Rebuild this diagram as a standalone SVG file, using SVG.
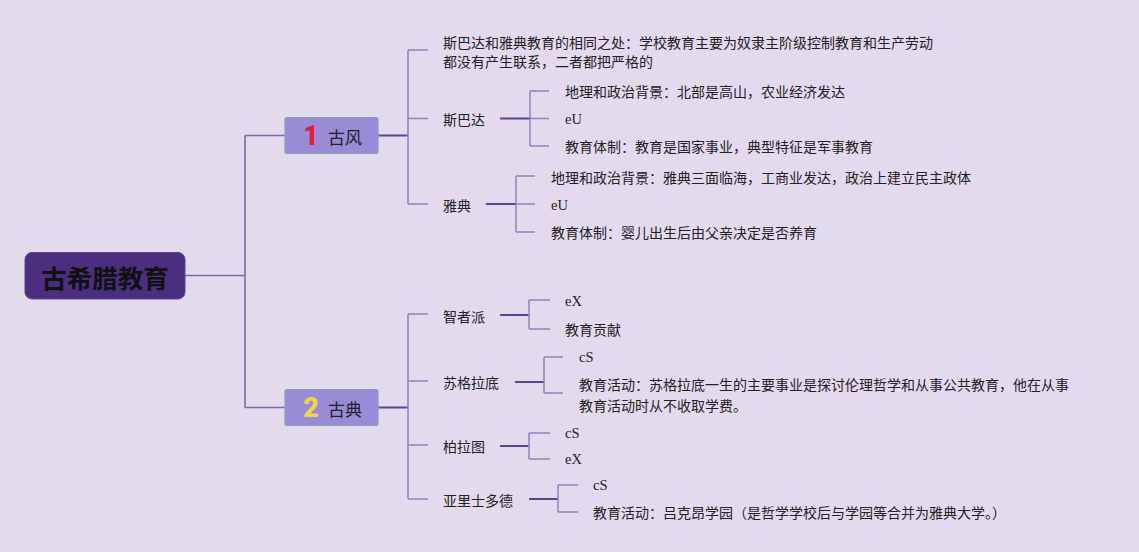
<svg xmlns="http://www.w3.org/2000/svg" width="1139" height="552" viewBox="0 0 1139 552">
<style>
.t{font-family:"Noto Sans CJK SC","Liberation Sans",sans-serif;font-size:14px;fill:#222;dominant-baseline:central}
.e{font-family:"Liberation Serif",serif;font-size:14.5px;fill:#222;dominant-baseline:central}
.lt{fill:none;stroke:#8f82c0;stroke-width:1.5}
.dk{fill:none;stroke:#5e4395;stroke-width:2}
.rt{fill:none;stroke:#7b6aa8;stroke-width:1.6}
.n1{fill:#9a8bd8;stroke:#86a2b8;stroke-width:1.2}
.nt{font-family:"Noto Sans CJK SC",sans-serif;font-size:17px;fill:#222;dominant-baseline:central}
.num{font-family:"Roboto","Liberation Sans",sans-serif;font-size:27px;font-weight:900;dominant-baseline:central}
</style>
<rect width="1139" height="552" fill="#e4daee"/>
<g id="connectors">
<path class="rt" d="M185 275.5H245M245 135.5V407.5M245 135.5H285M245 407.5H285"/>
<path class="dk" d="M378 135.5H408M378 407.5H408"/>
<path class="lt" d="M408 50V204M408 50H428M408 118.5H428M408 204H428"/>
<path class="dk" d="M500 118.5H530"/>
<path class="lt" d="M530 91V146M530 91H549M530 118.5H549M530 146H549"/>
<path class="dk" d="M486 204H516"/>
<path class="lt" d="M516 176V232M516 176H535M516 204H535M516 232H535"/>
<path class="lt" d="M408 314V499M408 314H428M408 381H428M408 445H428M408 499H428"/>
<path class="dk" d="M500 315H529"/>
<path class="lt" d="M529 300V329M529 300H550M529 329H550"/>
<path class="dk" d="M515 382H544"/>
<path class="lt" d="M544 357V393M544 357H563M544 393H563"/>
<path class="dk" d="M500 446H529"/>
<path class="lt" d="M529 433V459M529 433H550M529 459H550"/>
<path class="dk" d="M529 499H558"/>
<path class="lt" d="M558 485V512M558 485H578M558 512H578"/>
</g>
<g id="root">
<rect x="25" y="252.5" width="160" height="46.5" rx="7" fill="#4b2e80" stroke="#5d4394" stroke-width="1"/>
<text x="105" y="276" text-anchor="middle" style="font-family:'Noto Sans CJK SC',sans-serif;font-size:25.5px;font-weight:700;fill:#111;dominant-baseline:central">古希腊教育</text>
</g>
<g id="n-gufeng">
<rect class="n1" x="285" y="117.5" width="93" height="36" rx="2"/>
<text class="num" x="311" y="136" text-anchor="middle" fill="#e01f3d">1</text>
<text class="nt" x="328" y="136">古风</text>
</g>
<g id="n-gudian">
<rect class="n1" x="285" y="389.5" width="93" height="36" rx="2"/>
<text class="num" x="311" y="408" text-anchor="middle" fill="#f1d548">2</text>
<text class="nt" x="328" y="408">古典</text>
</g>
<g id="n-same">
<text class="t" x="443" y="42">斯巴达和雅典教育的相同之处：学校教育主要为奴隶主阶级控制教育和生产劳动</text>
<text class="t" x="443" y="61">都没有产生联系，二者都把严格的</text>
</g>
<g id="n-sparta"><text class="t" x="443" y="118.5">斯巴达</text></g>
<g id="n-sparta-1"><text class="t" x="565" y="91">地理和政治背景：北部是高山，农业经济发达</text></g>
<g id="n-sparta-2"><text class="e" x="565" y="118.5">eU</text></g>
<g id="n-sparta-3"><text class="t" x="565" y="146">教育体制：教育是国家事业，典型特征是军事教育</text></g>
<g id="n-athens"><text class="t" x="443" y="204.5">雅典</text></g>
<g id="n-athens-1"><text class="t" x="551" y="177">地理和政治背景：雅典三面临海，工商业发达，政治上建立民主政体</text></g>
<g id="n-athens-2"><text class="e" x="551" y="204.5">eU</text></g>
<g id="n-athens-3"><text class="t" x="551" y="232">教育体制：婴儿出生后由父亲决定是否养育</text></g>
<g id="n-zhizhe"><text class="t" x="443" y="316">智者派</text></g>
<g id="n-zhizhe-1"><text class="e" x="565" y="301">eX</text></g>
<g id="n-zhizhe-2"><text class="t" x="565" y="329">教育贡献</text></g>
<g id="n-socrates"><text class="t" x="443" y="382">苏格拉底</text></g>
<g id="n-socrates-1"><text class="e" x="579" y="357">cS</text></g>
<g id="n-socrates-2">
<text class="t" x="579" y="384">教育活动：苏格拉底一生的主要事业是探讨伦理哲学和从事公共教育，他在从事</text>
<text class="t" x="579" y="405">教育活动时从不收取学费。</text>
</g>
<g id="n-plato"><text class="t" x="443" y="446">柏拉图</text></g>
<g id="n-plato-1"><text class="e" x="565" y="433">cS</text></g>
<g id="n-plato-2"><text class="e" x="565" y="459">eX</text></g>
<g id="n-aristotle"><text class="t" x="443" y="499.5">亚里士多德</text></g>
<g id="n-aristotle-1"><text class="e" x="593" y="485">cS</text></g>
<g id="n-aristotle-2"><text class="t" x="593" y="512">教育活动：吕克昂学园（是哲学学校后与学园等合并为雅典大学。）</text></g>
</svg>
